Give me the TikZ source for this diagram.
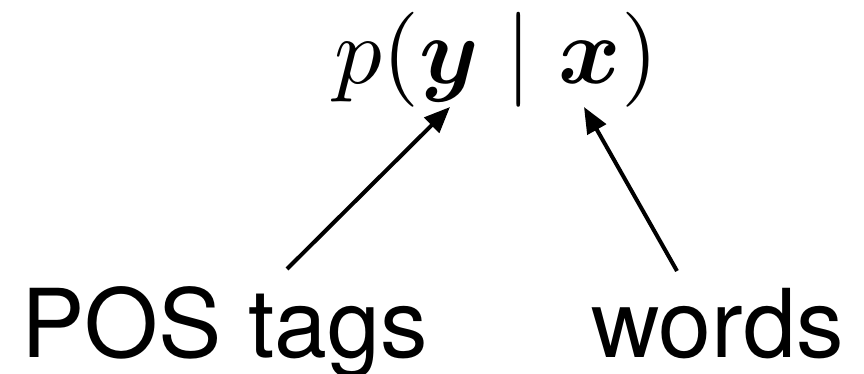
\RequirePackage{fix-cm}
\documentclass[tikz,border=0pt]{standalone}
\usepackage{amsmath}
\usepackage{bm}
\usepackage{fontspec}
\setmainfont{TeX Gyre Heros}
\usetikzlibrary{arrows.meta}
\begin{document}
\begin{tikzpicture}[x=1pt,y=-1pt,
  lbl/.style={inner sep=0pt,anchor=base west,font=\fontsize{95}{100}\selectfont},
  frm/.style={inner sep=0pt,anchor=base west,font=\fontsize{10}{12}\selectfont,scale=9.5},
  pointer/.style={line width=4pt,-{Triangle[length=26pt,width=21pt]}}]
\useasboundingbox (0,0) rectangle (864,374);
\node[frm] (formula) at (333,84) {$p(\bm{y} \mid \bm{x})$};
\node[lbl] (pos) at (21,357) {POS tags};
\node[lbl] (words) at (591,357) {words};
\coordinate (ytip) at (450,107);
\coordinate (xtip) at (584,107);
\coordinate (posstart) at (287,269);
\coordinate (wordsstart) at (677,271);
\draw[pointer] (posstart) -- (ytip);
\draw[pointer] (wordsstart) -- (xtip);
\end{tikzpicture}
\end{document}
